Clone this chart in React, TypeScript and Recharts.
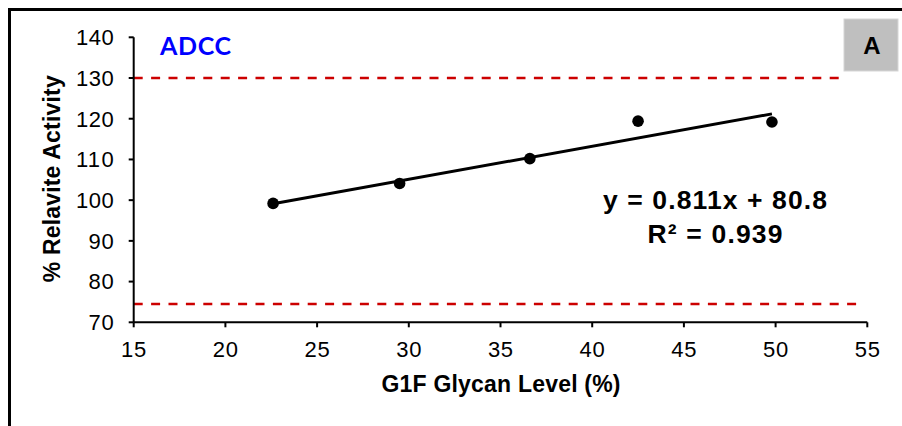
import { ScatterChart, Scatter, XAxis, YAxis, ReferenceLine, Label, Customized } from 'recharts'

const xTicks = [15, 20, 25, 30, 35, 40, 45, 50, 55]
const yTicks = [70, 80, 90, 100, 110, 120, 130, 140]

// G1F glycan level (%) vs relative ADCC activity (%) per lot
const glycanLevel = [22.6, 29.5, 36.6, 42.5, 49.8]
const relActivity = [99.2, 104.1, 110.2, 119.4, 119.2]

// linear fit printed on the chart
const slope = 0.811
const intercept = 80.8
const rSquared = 0.939

// acceptance limits (dashed red) and how far along x they run
const upperLimit = 130
const lowerLimit = 74.5
const upperLimitEnd = 53.5
const lowerLimitEnd = 54.4

const FONT = '"Liberation Sans", Arial, sans-serif'
const CHAR_W = 12.6

const points = glycanLevel.map((x, i) => ({ x, y: relActivity[i] }))
const fitX = [Math.min(...glycanLevel), Math.max(...glycanLevel)]
const fitLine = fitX.map((x) => ({ x, y: slope * x + intercept }))

function YTick(props: any) {
  const { x, y, payload } = props
  const s = String(payload.value)
  return (
    <text x={x} y={y} dy="0.355em" textAnchor="end" fontSize={22} fontFamily={FONT} fill="#000" textLength={s.length * CHAR_W}>
      {s}
    </text>
  )
}

function XTick(props: any) {
  const { x, y, payload } = props
  const s = String(payload.value)
  return (
    <text x={x} y={y} dy="0.71em" textAnchor="middle" fontSize={22} fontFamily={FONT} fill="#000" textLength={s.length * CHAR_W}>
      {s}
    </text>
  )
}

function Annotations() {
  return (
    <g>
      <text x={152} y={46.5} fontSize={25} fontWeight="bold" fontFamily="Lato, sans-serif" fill="#0000ff" textLength={71}>
        ADCC
      </text>
      <rect x={836} y={11} width={54} height={52} fill="#bfbfbf" stroke="#d6d6d6" />
      <text x={864} y={46} textAnchor="middle" fontSize={24} fontWeight="bold" fontFamily={FONT} fill="#000">
        A
      </text>
      <text x={707} y={201} textAnchor="middle" fontSize={26.5} fontWeight="bold" fontFamily={FONT} fill="#000" textLength={224}>
        {`y = ${slope}x + ${intercept}`}
      </text>
      <text x={707} y={235} textAnchor="middle" fontSize={26.5} fontWeight="bold" fontFamily={FONT} fill="#000" textLength={135}>
        {`R² = ${rSquared}`}
      </text>
    </g>
  )
}

export default function App() {
  return (
    <div style={{ position: 'absolute', left: 8, top: 8, width: 894, height: 418, background: '#fff' }}>
      <div
        style={{
          position: 'absolute',
          inset: 0,
          borderTop: '3px solid #000',
          borderLeft: '3px solid #000',
        }}
      />
      <div style={{ position: 'absolute', left: 0, top: 0 }}>
        <ScatterChart width={894} height={418} margin={{ top: 29.3, right: 34.7, left: 0, bottom: 43.7 }}>
          <XAxis
            type="number"
            dataKey="x"
            domain={[15, 55]}
            ticks={xTicks}
            interval={0}
            height={60}
            tickSize={5}
            tickMargin={14}
            axisLine={{ stroke: '#000', strokeWidth: 2 }}
            tickLine={{ stroke: '#000', strokeWidth: 2 }}
            tick={<XTick />}
          >
            <Label
              content={({ viewBox }: any) => (
                <text
                  x={viewBox.x + viewBox.width / 2 + 0.5}
                  y={viewBox.y + 69.2}
                  textAnchor="middle"
                  fontSize={23}
                  fontWeight="bold"
                  fontFamily={FONT}
                  fill="#000"
                  textLength={239}
                >
                  G1F Glycan Level (%)
                </text>
              )}
            />
          </XAxis>
          <YAxis
            type="number"
            dataKey="y"
            domain={[70, 140]}
            ticks={yTicks}
            interval={0}
            width={125.7}
            tickSize={5}
            tickMargin={15}
            axisLine={{ stroke: '#000', strokeWidth: 2 }}
            tickLine={{ stroke: '#000', strokeWidth: 2 }}
            tick={<YTick />}
          >
            <Label
              content={({ viewBox }: any) => {
                const cx = viewBox.x + 52.5
                const cy = viewBox.y + viewBox.height / 2 - 1
                return (
                  <text
                    x={cx}
                    y={cy}
                    transform={`rotate(-90, ${cx}, ${cy})`}
                    textAnchor="middle"
                    fontSize={23}
                    fontWeight="bold"
                    fontFamily={FONT}
                    fill="#000"
                    textLength={207}
                  >
                    % Relavite Activity
                  </text>
                )
              }}
            />
          </YAxis>
          <ReferenceLine
            segment={[{ x: 15, y: upperLimit }, { x: upperLimitEnd, y: upperLimit }]}
            stroke="#cc0000"
            strokeWidth={2.5}
            strokeDasharray="9 8.4"
          />
          <ReferenceLine
            segment={[{ x: 15, y: lowerLimit }, { x: lowerLimitEnd, y: lowerLimit }]}
            stroke="#cc0000"
            strokeWidth={2.5}
            strokeDasharray="9 8.4"
          />
          <Scatter
            data={fitLine}
            line={{ stroke: '#000', strokeWidth: 3 }}
            shape={() => <g />}
            isAnimationActive={false}
          />
          <Scatter
            data={points}
            fill="#000"
            shape={(p: any) => <circle cx={p.cx} cy={p.cy} r={5.8} fill="#000" />}
            isAnimationActive={false}
          />
          <Customized component={Annotations} />
        </ScatterChart>
      </div>
    </div>
  )
}
